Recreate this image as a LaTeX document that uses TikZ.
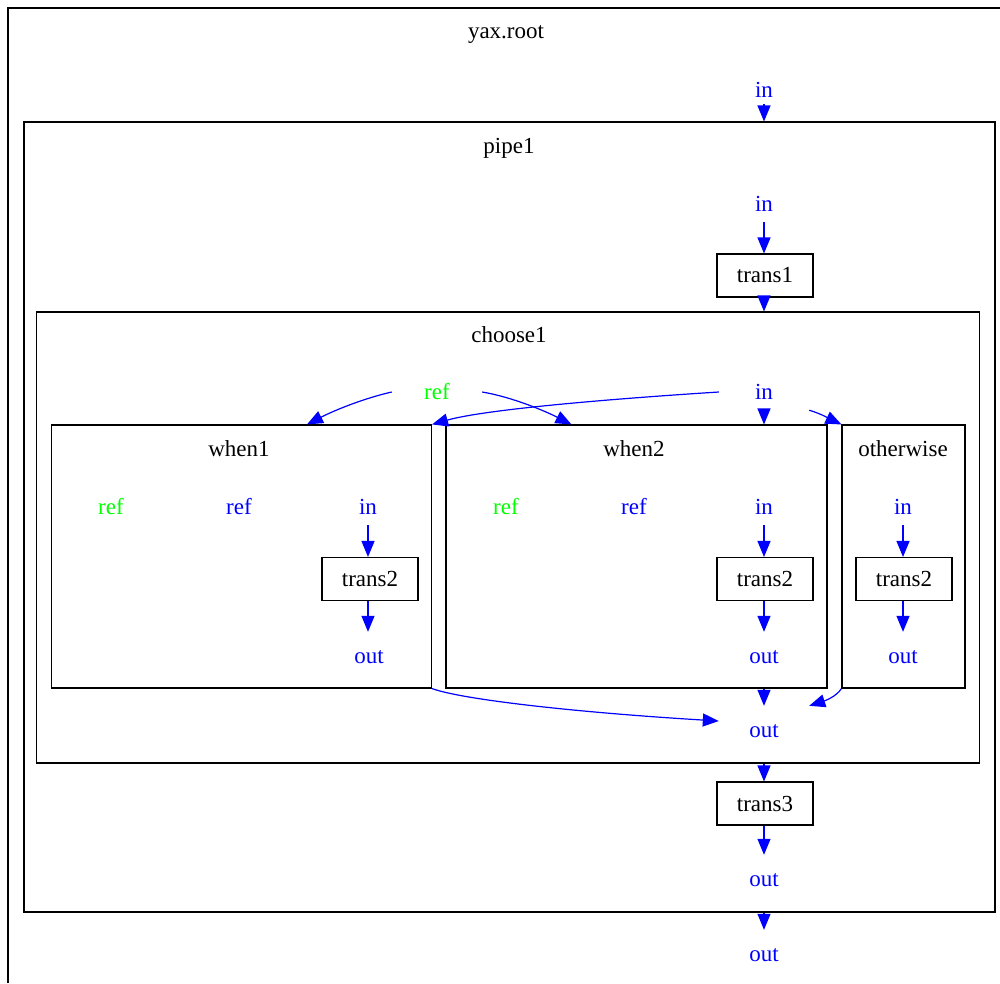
\documentclass[tikz,border=0pt]{standalone}
\usepackage{fontspec}
\setmainfont{Liberation Serif}
\usetikzlibrary{arrows.meta,calc}
\definecolor{portblue}{RGB}{0,0,255}
\definecolor{refgreen}{RGB}{0,255,0}
\begin{document}
\begin{tikzpicture}[x=1pt,y=-1pt,
  font=\fontsize{23}{27}\selectfont,
  box/.style={draw=black,line width=1.1pt,inner sep=0pt},
  cluster/.style={box},
  proc/.style={box,minimum width=96pt,minimum height=43pt},
  port/.style={text=portblue,inner sep=0pt,minimum width=90pt,minimum height=36pt},
  refport/.style={port,text=refgreen},
  outport/.style={port,minimum height=50pt},
  title/.style={inner sep=0pt},
  edge/.style={draw=portblue,line width=1.2pt,-{Triangle[length=16pt,width=13pt]}},
]
\useasboundingbox (0,0) rectangle (1000,983);

% root frame (continues past the page)
\draw[line width=1.1pt] (8,983) -- (8,8) -- (1000,8);
\node[title] (tRoot) at (506,35) {yax.root};
\node[port,minimum height=28pt] (inR) at (764,90) {in};
\node[outport] (outR) at (764,955) {out};

% pipe1
\node[cluster,minimum width=971pt,minimum height=790pt] (pipe1) at (509.5,517) {};
\node[title] (tPipe) at (509,148) {pipe1};
\node[port] (inP) at (764,204) {in};
\node[proc] (trans1) at (765,275.5) {trans1};
\node[proc] (trans3) at (765,803.5) {trans3};
\node[outport] (outP) at (764,880) {out};

% choose1
\node[cluster,minimum width=943pt,minimum height=451pt] (choose1) at (508.3,537.5) {};
\node[title] (tChoose) at (509,335) {choose1};
\node[refport] (refC) at (437,392) {ref};
\node[port] (inC) at (764,392) {in};
\node[outport] (outC) at (764,731) {out};

% when1
\node[cluster,minimum width=380pt,minimum height=263pt] (when1) at (241.5,556.5) {};
\node[title] (tWhen1) at (239,449) {when1};
\node[refport] (refA1) at (111,507) {ref};
\node[port] (refB1) at (239,507) {ref};
\node[port] (in1) at (368,507) {in};
\node[proc] (t21) at (370,579) {trans2};
\node[outport] (out1) at (369,657) {out};

% when2
\node[cluster,minimum width=381pt,minimum height=263pt] (when2) at (636.5,556.5) {};
\node[title] (tWhen2) at (634,449) {when2};
\node[refport] (refA2) at (506,507) {ref};
\node[port] (refB2) at (634,507) {ref};
\node[port] (in2) at (764,507) {in};
\node[proc] (t22) at (765,579) {trans2};
\node[outport] (out2) at (764,657) {out};

% otherwise
\node[cluster,minimum width=123pt,minimum height=263pt] (other) at (903.5,556.5) {};
\node[title] (tOther) at (903,449) {otherwise};
\node[port] (in3) at (903,507) {in};
\node[proc] (t23) at (904,579) {trans2};
\node[outport] (out3) at (903,657) {out};

% straight flow
\draw[edge] (inR.south) -- (inR.south |- pipe1.north);
\draw[edge] (inP.south) -- (inP.south |- trans1.north);
\draw[edge] (trans1.south -| inP) -- (inP |- choose1.north);
\draw[edge] (inC.south) -- (inC.south |- when2.north);
\draw[edge] (in1.south) -- (in1.south |- t21.north);
\draw[edge] (t21.south -| in1) -- (in1 |- out1.north);
\draw[edge] (in2.south) -- (in2.south |- t22.north);
\draw[edge] (t22.south -| in2) -- (in2 |- out2.north);
\draw[edge] (in3.south) -- (in3.south |- t23.north);
\draw[edge] (t23.south -| in3) -- (in3 |- out3.north);
\draw[edge] (when2.south -| outC) -- (outC.north);
\draw[edge] (choose1.south -| outC) -- (outC |- trans3.north);
\draw[edge] (trans3.south -| outC) -- (outC |- outP.north);
\draw[edge] (pipe1.south -| outR) -- (outR.north);

% curved flow inside choose1
\draw[edge] (refC.west) .. controls (365,398) and (335,410) .. ($(when1.north west)+(256,0)$);
\draw[edge] (refC.east) .. controls (512,397) and (545,411) .. ($(when2.north west)+(126,0)$);
\draw[edge] (inC.west) .. controls (640,397) and (490,408) .. (when1.north east);
\draw[edge] (inC.south east) .. controls (822,414) and (832,420) .. (other.north west);
\draw[edge] (when1.south east) .. controls (460,699) and (570,712) .. ([yshift=10pt]outC.west);
\draw[edge] (other.south west) .. controls (836,697) and (824,701) .. (outC.north east);
\end{tikzpicture}
\end{document}
